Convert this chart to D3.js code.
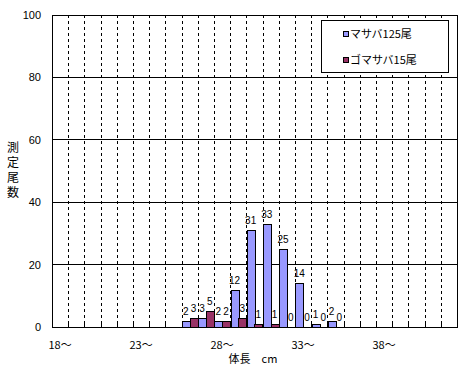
<!DOCTYPE html>
<html lang="ja">
<head>
<meta charset="UTF-8">
<script src="https://d3js.org/d3.v7.min.js"></script>
<style>
  body { margin: 0; background: #fff; }
  text { font-family: "Liberation Sans", sans-serif; fill: #000; }
  text.jp { font-family: "Noto Sans CJK JP", sans-serif; }
</style>
</head>
<body>
<div id="chart"></div>
<script>
// 体長階級 18～ .. 42～
const categories = d3.range(18, 43).map(d => d + "～");
const tickLabels = ["18～", "23～", "28～", "33～", "38～"];
const seriesNames = ["マサバ125尾", "ゴマサバ15尾"];
// null = 空欄
const masaba = [null, null, null, null, null, null, null, null, 2, 3, 2, 12, 31, 33, 25, 14, 1, 2, null, null, null, null, null, null, null];
const gomasaba = [null, null, null, null, null, null, null, null, 3, 5, 2, 3, 1, 1, 0, 0, 0, 0, null, null, null, null, null, null, null];
const yTicks = [0, 20, 40, 60, 80, 100];
const colors = ["#9999FF", "#993366"];

const W = 476, H = 372;
const plot = { left: 52, top: 15, right: 457, bottom: 327 };

const svg = d3.select("#chart").append("svg")
  .attr("width", W).attr("height", H);

const x = d3.scaleBand().domain(categories).range([plot.left, plot.right]);
const xs = d3.scaleBand().domain([0, 1]).range([0, x.bandwidth()]).paddingOuter(0.05);
const y = d3.scaleLinear().domain([0, 100]).range([plot.bottom, plot.top]);

// 横グリッド
svg.append("g").selectAll("line").data(yTicks.slice(1, -1)).join("line")
  .attr("x1", plot.left).attr("x2", plot.right)
  .attr("y1", d => y(d)).attr("y2", d => y(d))
  .attr("stroke", "#000").attr("shape-rendering", "crispEdges");

// 縦グリッド（破線）
svg.append("g").selectAll("line").data(categories.slice(1)).join("line")
  .attr("x1", d => Math.round(x(d)) + 0.5).attr("x2", d => Math.round(x(d)) + 0.5)
  .attr("y1", plot.top).attr("y2", plot.bottom)
  .attr("stroke", "#000").attr("stroke-dasharray", "3,3");

// 棒
const series = [masaba, gomasaba];
series.forEach((vals, si) => {
  const data = vals.map((v, i) => ({ c: categories[i], v })).filter(d => d.v !== null);
  svg.append("g").selectAll("rect").data(data).join("rect")
    .attr("x", d => Math.round(x(d.c) + xs(si)) + 0.5)
    .attr("y", d => Math.round(y(d.v)) + 0.5)
    .attr("width", Math.round(xs.bandwidth()))
    .attr("height", d => Math.round(y(0)) - Math.round(y(d.v)))
    .attr("fill", colors[si])
    .attr("stroke", "#000");
  svg.append("g").selectAll("text").data(data).join("text")
    .attr("x", d => x(d.c) + xs(si) + xs.bandwidth() / 2)
    .attr("y", d => y(d.v) - 6)
    .attr("text-anchor", "middle")
    .attr("font-size", 10)
    .text(d => d.v);
});

// 枠
svg.append("rect")
  .attr("x", plot.left + 0.5).attr("y", plot.top + 0.5)
  .attr("width", plot.right - plot.left).attr("height", plot.bottom - plot.top)
  .attr("fill", "none").attr("stroke", "#000");

// x軸の目盛り（内向き）
svg.append("g").selectAll("line").data(categories.slice(1)).join("line")
  .attr("x1", d => Math.round(x(d)) + 0.5).attr("x2", d => Math.round(x(d)) + 0.5)
  .attr("y1", plot.bottom).attr("y2", plot.bottom - 6)
  .attr("stroke", "#000");

// x軸ラベル
svg.append("g").selectAll("text").data(tickLabels).join("text")
  .attr("class", "jp")
  .attr("x", d => x(d) + x.bandwidth() / 2)
  .attr("y", 349)
  .attr("text-anchor", "middle")
  .attr("font-size", 11)
  .text(d => d);

// y軸ラベル
svg.append("g").selectAll("text").data(yTicks).join("text")
  .attr("x", 41)
  .attr("y", d => y(d) + 4)
  .attr("text-anchor", "end")
  .attr("font-size", 11)
  .text(d => d);

// 軸タイトル
svg.append("text")
  .attr("class", "jp")
  .attr("x", 253).attr("y", 363)
  .attr("text-anchor", "middle")
  .attr("font-size", 11)
  .text("体長　cm");

svg.append("text")
  .attr("class", "jp")
  .attr("x", 13).attr("y", 171)
  .attr("font-size", 12)
  .attr("text-anchor", "middle")
  .style("writing-mode", "vertical-rl")
  .style("letter-spacing", "3px")
  .text("測定尾数");

// 凡例
const lg = svg.append("g");
lg.append("rect")
  .attr("x", 321.5).attr("y", 20.5).attr("width", 127).attr("height", 52)
  .attr("fill", "#fff").attr("stroke", "#000");
seriesNames.forEach((name, i) => {
  const cy = 34 + i * 26;
  lg.append("rect")
    .attr("x", 343.5).attr("y", cy - 2.5).attr("width", 5).attr("height", 5)
    .attr("fill", colors[i]).attr("stroke", "#000");
  lg.append("text")
    .attr("class", "jp")
    .attr("x", 350).attr("y", cy + 4)
    .attr("font-size", 11)
    .text(name);
});
</script>
</body>
</html>
